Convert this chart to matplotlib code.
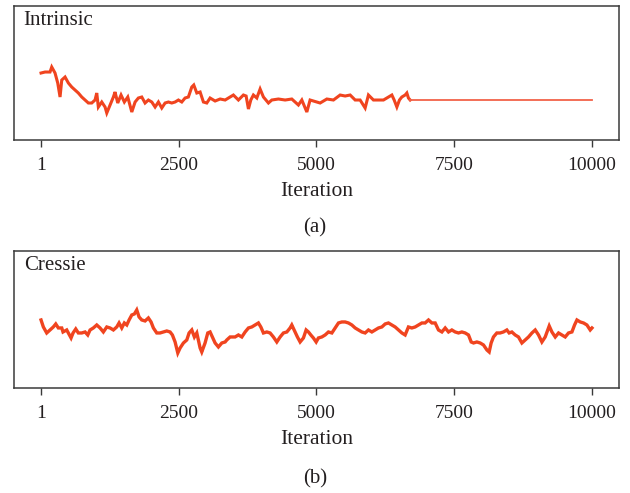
import matplotlib
matplotlib.use("Agg")
import matplotlib.pyplot as plt
import numpy as np

plt.rcParams['font.family'] = ['Liberation Serif', 'DejaVu Serif']

# ----------------- data (thinned traces) -----------------
intrinsic_iter = [1, 74, 164, 195, 255, 304, 346, 377, 437, 497, 558, 618, 678, 740,
                  800, 860, 921, 981, 1012, 1041, 1103, 1163, 1194, 1254, 1314, 1344,
                  1393, 1453, 1513, 1575, 1648, 1708, 1767, 1829, 1889, 1949, 2011, 2071,
                  2131, 2192, 2252, 2312, 2374, 2434, 2494, 2555, 2615, 2675, 2737, 2773,
                  2828, 2888, 2948, 3009, 3069, 3160, 3251, 3342,
                  3492, 3583, 3674, 3723, 3765, 3808, 3855, 3917, 3977, 4037, 4128, 4189,
                  4309, 4431, 4552, 4672, 4734, 4825, 4884, 5066, 5188, 5308, 5429, 5520,
                  5611, 5702, 5792, 5883, 5943, 6034, 6216, 6368, 6410, 6459, 6506, 6549,
                  6609, 6640, 6669, 6700, 10000]
intrinsic_val = [67, 68, 68, 73, 67, 57, 43, 60, 63, 57, 53, 50, 47, 43,
                 40, 37, 37, 40, 47, 33, 38, 33, 27, 35, 43, 48,
                 37, 45, 38, 43, 28, 38, 42, 43, 37, 40, 38, 33,
                 38, 32, 37, 38, 37, 38, 40, 38, 42, 43, 53, 55,
                 47, 48, 38, 37, 42, 39, 41, 40,
                 45, 40, 45, 44, 31, 40, 45, 42, 51, 43, 37, 40,
                 41, 40, 41, 35, 40, 28, 40, 37, 41, 40, 45, 44,
                 45, 40, 40, 32, 45, 40, 40, 45, 40, 33, 40, 43,
                 45, 47, 42, 40, 40]

cressie_iter = [1, 43, 104, 164, 224, 268, 315, 377, 400, 467, 497, 546, 582, 631, 678, 740,
                800, 849, 891, 950, 1012, 1072, 1132, 1194, 1254, 1314, 1375, 1417, 1466, 1513,
                1557, 1599, 1648, 1695, 1738, 1780, 1829, 1889, 1949, 1998, 2040, 2101, 2161,
                2221, 2283, 2343, 2385, 2434, 2483, 2525, 2585, 2646, 2688, 2737, 2784, 2828,
                2888, 2918, 2978, 3027, 3069, 3111, 3160, 3220, 3282, 3342, 3372, 3432, 3523,
                3583, 3645, 3705, 3765, 3826, 3886, 3946, 3990, 4037, 4099, 4158, 4218, 4280,
                4340, 4400, 4462, 4521, 4552, 4594, 4654, 4703, 4763, 4812, 4854, 4897, 4944,
                4994, 5035, 5097, 5157, 5217, 5279, 5339, 5399, 5460, 5520, 5580, 5642, 5702,
                5762, 5823, 5883, 5943, 6005, 6065, 6125, 6187, 6246, 6306, 6368, 6428, 6488,
                6550, 6609, 6669, 6731, 6791, 6851, 6913, 6972, 7033, 7094, 7154, 7214, 7276,
                7336, 7396, 7457, 7517, 7577, 7639, 7699, 7759, 7808, 7850, 7911, 7971, 8031,
                8093, 8134, 8170, 8212, 8273, 8333, 8393, 8455, 8497, 8546, 8606, 8666, 8728,
                8788, 8848, 8910, 8970, 9030, 9091, 9151, 9224, 9273, 9333, 9393, 9455, 9514,
                9574, 9636, 9684, 9727, 9787, 9847, 9908, 9968, 10000]
cressie_val = [68, 61, 55, 58, 61, 64, 60, 60, 56, 58, 55, 50, 55, 59, 55, 55,
               56, 53, 58, 60, 63, 60, 56, 61, 60, 58, 61, 65, 60, 65,
               63, 68, 73, 74, 78, 71, 68, 67, 70, 66, 60, 55, 55,
               56, 57, 56, 53, 46, 35, 40, 45, 48, 55, 58, 51, 55,
               40, 36, 45, 55, 56, 51, 45, 41, 45, 46, 48, 51, 51,
               53, 51, 56, 60, 61, 63, 65, 61, 55, 56, 55, 51, 46,
               51, 55, 56, 60, 63, 58, 51, 46, 50, 58, 56, 53, 50,
               46, 50, 51, 53, 56, 55, 60, 65, 66, 66, 65, 63, 60,
               58, 56, 55, 58, 56, 58, 60, 61, 64, 65, 63, 61, 58,
               55, 53, 61, 60, 61, 63, 65, 65, 68, 65, 65, 58, 56,
               60, 56, 58, 56, 55, 56, 55, 53, 46, 45, 46, 45, 43,
               38, 36, 45, 51, 55, 55, 56, 58, 55, 56, 53, 51, 45,
               48, 51, 55, 58, 53, 46, 51, 62, 56, 51, 55, 53, 51,
               55, 56, 63, 68, 66, 65, 63, 58, 60]

xticks = [1, 2500, 5000, 7500, 10000]
panel_titles = ["Intrinsic", "Cressie"]
panel_tags = ["(a)", "(b)"]

line_color = '#f0441f'
text_color = '#231f20'
spine_color = '#3a3a3a'

fig = plt.figure(figsize=(6.3, 4.93), dpi=100)
ax_top = fig.add_axes([0.0222, 0.716, 0.9603, 0.2718])
ax_bot = fig.add_axes([0.0222, 0.213, 0.9603, 0.278])

# top trace: noisy part thicker, converged flat tail thinner
it = np.array(intrinsic_iter)
iv = np.array(intrinsic_val)
noisy = it <= 6700
tail = it >= 6700
ax_top.plot(it[noisy], iv[noisy], color=line_color, lw=2.2, solid_joinstyle='miter')
ax_top.plot(it[tail], iv[tail], color='#f26249', lw=1.3)
ax_top.set_ylim(0, 134)

ax_bot.plot(cressie_iter, cressie_val, color=line_color, lw=2.4, solid_joinstyle='miter')
ax_bot.set_ylim(0, 137)

for ax, title in zip([ax_top, ax_bot], panel_titles):
    ax.set_xlim(-490, 10490)
    ax.set_xticks(xticks)
    ax.set_xticklabels([str(t) for t in xticks], fontsize=14, color=text_color)
    ax.set_yticks([])
    ax.tick_params(axis='x', length=5, width=1.0, color=spine_color, pad=7)
    for s in ax.spines.values():
        s.set_color(spine_color)
        s.set_linewidth(1.1)
    ax.set_xlabel("Iteration", fontsize=15.5, color=text_color, labelpad=6)
    ax.text(0.016, 0.96, title, transform=ax.transAxes, ha='left', va='top',
            fontsize=15, color=text_color)

fig.text(0.5, 1 - 228 / 493, panel_tags[0], ha='center', va='center', fontsize=15, color=text_color)
fig.text(0.5, 1 - 479 / 493, panel_tags[1], ha='center', va='center', fontsize=15, color=text_color)

fig.savefig("out.png", dpi=100, facecolor='white')
